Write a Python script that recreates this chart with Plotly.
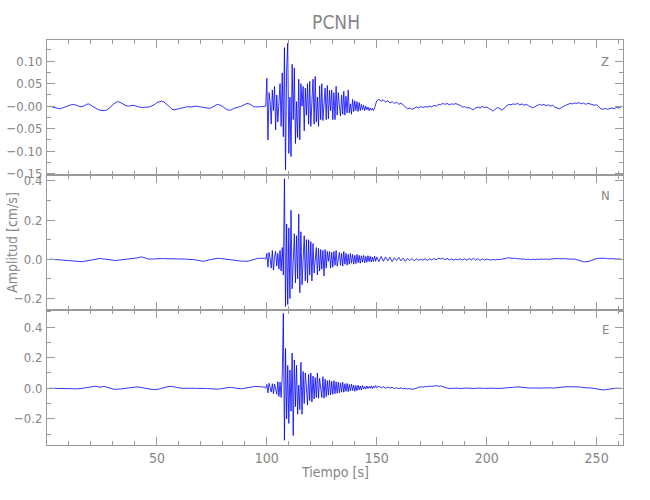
import numpy as np
import plotly.graph_objects as go

# ---------------- data ----------------
# time grids: pre-event 1 s, event window 0.5 s, coda 1 s
t_pre = list(np.arange(1, 100, 1.0))          # 1 .. 99
t_evt = list(np.arange(99.5, 150.01, 0.5))    # 99.5 .. 150
t_coda = list(np.arange(151, 262, 1.0))       # 151 .. 261

z_pre = [0.000, -0.001, -0.003, -0.004, -0.005, -0.006, -0.004, -0.002,
         0.000, 0.002, 0.003, 0.004, 0.003, 0.001, -0.001, -0.001, 0.001, 0.004,
         0.005, 0.002, -0.002, -0.004, -0.007, -0.009, -0.010, -0.010, -0.009, -0.006,
         -0.002, 0.004, 0.008, 0.010, 0.009, 0.006, 0.003, 0.001, 0.000, 0.001,
         0.002, 0.001, -0.001, -0.002, -0.003, -0.003, -0.002, -0.002, -0.001, 0.001,
         0.004, 0.008, 0.010, 0.011, 0.010, 0.006, 0.001, -0.004, -0.007, -0.008,
         -0.007, -0.006, -0.005, -0.004, -0.002, -0.001, -0.002, -0.001, -0.001, 0.000,
         -0.001, -0.002, -0.002, -0.003, -0.004, -0.005, -0.003, 0.000, 0.003, 0.004,
         0.002, -0.001, -0.005, -0.008, -0.009, -0.008, -0.005, -0.003, -0.002, -0.001,
         0.001, 0.003, 0.006, 0.005, 0.002, -0.001, -0.002, -0.001, -0.001, -0.001, 0.000]
z_evt = [0.000, 0.062, -0.075, 0.030, 0.010, -0.040, 0.036, -0.010, 0.044, -0.053,
         0.025, -0.035, 0.005, 0.050, -0.045, 0.074, -0.068, 0.130, -0.142, 0.080,
         0.140, -0.105, 0.020, -0.112, 0.093, -0.030, 0.085, -0.083, 0.010, -0.070,
         0.060, -0.075, 0.050, 0.000, 0.044, -0.055, 0.040, -0.020, 0.050, -0.040,
         0.055, -0.045, 0.010, 0.060, -0.040, 0.066, -0.035, 0.020, -0.045, 0.045,
         -0.030, 0.050, -0.032, 0.010, 0.040, -0.030, 0.046, -0.028, 0.035, -0.010,
         0.036, -0.030, 0.030, -0.030, 0.044, -0.020, 0.030, 0.000, -0.022, 0.025,
         -0.018, 0.033, -0.020, 0.022, -0.015, 0.036, -0.015, 0.005, -0.018, 0.015,
         -0.012, 0.012, -0.010, 0.010, -0.012, 0.008, -0.010, 0.004, -0.008, 0.002,
         -0.010, 0.000, -0.008, -0.002, -0.010, -0.004, -0.009, -0.005, -0.010, -0.004,
         0.002, 0.012]
z_coda = [0.015, 0.011, 0.014, 0.009, 0.012, 0.007, 0.010, 0.006, 0.009, 0.004,
          0.007, 0.003, -0.002, -0.006, -0.004, -0.007, -0.005, -0.002, -0.004, -0.001,
          -0.003, -0.001, -0.002, 0.000, -0.002, 0.002, 0.000, 0.004, 0.003, 0.006,
          0.004, 0.006, 0.003, 0.005, 0.004, 0.006, 0.003, 0.002, -0.002, -0.001,
          -0.004, -0.003, -0.006, -0.008, -0.004, -0.002, -0.004, -0.001, -0.003, -0.002,
          -0.005, -0.008, -0.011, -0.006, -0.003, -0.006, -0.009, -0.004, 0.000, 0.004,
          0.003, 0.005, 0.004, 0.006, 0.003, 0.005, 0.002, 0.004, 0.001, -0.002,
          -0.004, -0.001, 0.002, 0.004, 0.002, 0.004, 0.001, 0.003, 0.000, 0.002,
          -0.002, -0.004, -0.006, -0.003, 0.000, 0.002, 0.004, 0.006, 0.005, 0.007,
          0.006, 0.008, 0.005, 0.007, 0.004, 0.006, 0.005, 0.004, 0.002, 0.003,
          -0.002, -0.006, -0.007, -0.005, -0.007, -0.006, -0.004, -0.006, -0.003, -0.004,
          -0.003]

n_pre = [0.000, 0.001, 0.000, -0.002, -0.001, -0.003, -0.004, -0.005,
         -0.006, -0.008, -0.009, -0.010, -0.011, -0.012, -0.013, -0.012, -0.010, -0.008,
         -0.005, -0.002, 0.000, 0.002, 0.003, 0.004, 0.003, 0.001, -0.001, -0.003,
         -0.005, -0.006, -0.006, -0.005, -0.004, -0.003, -0.001, 0.001, 0.003, 0.002,
         0.004, 0.006, 0.007, 0.010, 0.012, 0.009, 0.005, 0.002, 0.001, 0.002,
         0.002, 0.003, 0.003, 0.004, 0.004, 0.003, 0.003, 0.004, 0.004, 0.003,
         0.003, 0.002, 0.002, 0.001, 0.001, 0.000, 0.000, -0.001, -0.002, -0.004,
         -0.006, -0.008, -0.010, -0.008, -0.004, -0.002, 0.000, 0.002, 0.004, 0.005,
         0.004, 0.003, 0.002, 0.000, -0.002, -0.003, -0.004, -0.005, -0.007, -0.009,
         -0.010, -0.011, -0.010, -0.008, -0.005, 0.000, 0.004, 0.005, 0.005, 0.005, 0.005]
n_evt = [0.000, 0.030, -0.040, 0.035, 0.005, -0.045, 0.045, -0.055, 0.010, 0.040,
         -0.035, 0.030, -0.050, 0.045, -0.060, 0.060, -0.080, 0.410, -0.240, 0.180,
         -0.230, 0.160, -0.200, 0.250, -0.150, 0.030, 0.130, -0.120, 0.120, -0.100,
         0.230, -0.170, 0.140, -0.130, 0.020, 0.120, -0.110, 0.100, -0.120, 0.100,
         -0.080, 0.090, -0.110, 0.080, -0.070, 0.010, 0.060, -0.080, 0.055, -0.060,
         0.050, -0.050, 0.045, -0.085, 0.050, -0.045, 0.040, -0.010, 0.040, -0.045,
         0.035, -0.040, 0.040, -0.030, 0.045, -0.035, 0.000, 0.035, -0.030, 0.030,
         -0.035, 0.040, -0.025, 0.030, -0.030, 0.025, -0.025, 0.030, -0.020, 0.025,
         -0.025, 0.020, -0.022, 0.025, -0.018, 0.020, -0.020, 0.018, -0.015, 0.020,
         -0.018, 0.015, -0.015, 0.018, -0.012, 0.015, -0.014, 0.012, -0.012, 0.016,
         -0.010, 0.012]
n_coda = [-0.012, 0.015, -0.010, 0.012, -0.008, 0.010, -0.012, 0.008, -0.006, 0.010,
          -0.008, 0.006, -0.010, 0.005, -0.006, 0.004, -0.008, 0.002, -0.005, 0.000,
          -0.004, 0.003, -0.006, 0.002, -0.003, 0.004, -0.002, 0.006, 0.002, 0.005,
          -0.002, 0.004, -0.003, 0.002, -0.004, 0.001, -0.003, 0.003, -0.004, 0.002,
          -0.005, 0.004, -0.003, 0.006, -0.004, 0.003, -0.006, 0.002, -0.004, 0.001,
          -0.002, -0.004, -0.001, -0.003, 0.000, -0.002, 0.001, 0.002, 0.005, 0.008,
          0.006, 0.004, 0.006, 0.002, 0.003, 0.000, 0.002, -0.001, 0.001, -0.002,
          0.000, -0.002, 0.001, -0.001, 0.002, 0.000, 0.002, -0.001, 0.001, 0.003,
          0.002, 0.004, 0.003, 0.004, 0.002, 0.003, 0.001, 0.002, 0.000, 0.001,
          -0.002, -0.006, -0.010, -0.012, -0.013, -0.012, -0.009, -0.004, 0.001, 0.004,
          0.005, 0.006, 0.004, 0.005, 0.003, 0.004, 0.002, 0.003, 0.001, 0.003,
          0.002]

e_pre = [0.000, 0.000, -0.001, 0.000, -0.001, -0.002, -0.001, 0.000,
         0.001, 0.000, -0.002, -0.003, -0.004, -0.004, -0.003, -0.001, 0.002, 0.005,
         0.008, 0.010, 0.012, 0.013, 0.011, 0.008, 0.010, 0.012, 0.008, 0.002,
         -0.002, -0.005, -0.007, -0.007, -0.006, -0.004, -0.002, 0.000, 0.002, 0.004,
         0.007, 0.009, 0.009, 0.007, 0.004, 0.001, 0.000, -0.002, -0.005, -0.008,
         -0.009, -0.008, -0.005, -0.001, 0.004, 0.008, 0.011, 0.013, 0.012, 0.009,
         0.005, 0.002, 0.000, -0.001, 0.000, 0.001, 0.000, 0.001, 0.000, -0.001,
         0.000, 0.001, 0.000, -0.001, -0.002, -0.003, -0.004, -0.006, -0.007, -0.006,
         -0.003, 0.000, 0.003, 0.005, 0.006, 0.005, 0.002, 0.000, -0.002, -0.003,
         -0.002, 0.000, 0.003, 0.006, 0.009, 0.012, 0.013, 0.011, 0.010, 0.009, 0.008]
e_evt = [0.000, 0.025, -0.030, 0.033, 0.005, -0.025, 0.030, -0.035, 0.028, 0.000,
         -0.040, 0.043, -0.054, 0.040, -0.060, 0.080, 0.490, -0.340, 0.260, -0.200,
         0.150, -0.230, 0.120, -0.150, 0.230, -0.310, 0.185, -0.120, 0.150, -0.170,
         0.020, -0.140, 0.170, -0.170, 0.110, -0.100, 0.100, 0.010, -0.110, 0.090,
         -0.080, 0.100, -0.090, 0.080, -0.070, 0.070, -0.060, 0.100, -0.065, 0.065,
         0.000, -0.060, 0.076, -0.065, 0.060, -0.055, 0.050, -0.045, 0.054, -0.043,
         0.045, -0.040, 0.050, -0.035, 0.043, -0.033, 0.040, -0.030, 0.035, -0.025,
         0.040, -0.026, 0.030, -0.020, 0.032, -0.022, 0.025, -0.018, 0.028, -0.015,
         0.020, -0.020, 0.018, -0.015, 0.020, -0.010, 0.015, -0.012, 0.018, -0.005,
         0.012, -0.004, 0.015, -0.002, 0.012, 0.000, 0.016, -0.003, 0.014, 0.002,
         0.018, 0.004]
e_coda = [0.014, 0.002, 0.010, 0.000, 0.008, 0.002, 0.006, -0.002, 0.004, -0.003,
          0.003, -0.004, 0.000, -0.005, -0.002, -0.007, -0.004, 0.002, 0.006, 0.010,
          0.008, 0.012, 0.010, 0.014, 0.012, 0.015, 0.017, 0.013, 0.015, 0.011,
          0.005, 0.001, -0.001, 0.000, -0.002, -0.001, 0.001, -0.002, 0.000, -0.001,
          0.002, 0.000, -0.002, 0.001, -0.001, 0.001, -0.002, 0.000, -0.001, 0.001,
          -0.001, 0.001, 0.000, -0.002, 0.001, -0.001, 0.000, 0.002, 0.003, 0.005,
          0.007, 0.009, 0.008, 0.009, 0.007, 0.006, 0.003, 0.002, 0.003, 0.001,
          0.002, 0.000, 0.002, 0.001, 0.002, 0.000, 0.002, 0.001, 0.003, 0.001,
          0.003, 0.002, 0.004, 0.006, 0.008, 0.009, 0.011, 0.010, 0.011, 0.010,
          0.011, 0.009, 0.007, 0.004, 0.003, 0.002, 0.003, 0.001, 0.000, -0.003,
          -0.007, -0.010, -0.011, -0.009, -0.006, -0.003, -0.001, 0.000, 0.001, 0.000,
          0.000]

components = ["Z", "N", "E"]
title_text = "PCNH"
x_title = "Tiempo [s]"
y_title = "Amplitud [cm/s]"
x_tickvals = [50, 100, 150, 200, 250]
y_ticks = {
    "Z": ([-0.15, -0.10, -0.05, 0.0, 0.05, 0.10],
          ["\u22120.15", "\u22120.10", "\u22120.05", "\u22120.00", "0.05", "0.10"]),
    "N": ([-0.2, 0.0, 0.2, 0.4], ["\u22120.2", "0.0", "0.2", "0.4"]),
    "E": ([-0.2, 0.0, 0.2, 0.4], ["\u22120.2", "0.0", "0.2", "0.4"]),
}

t_all = t_pre + t_evt + t_coda
series = {"Z": z_pre + z_evt + z_coda,
          "N": n_pre + n_evt + n_coda,
          "E": e_pre + e_evt + e_coda}
for k, v in series.items():
    assert len(v) == len(t_all), (k, len(v), len(t_all))

# ---------------- styling ----------------
AX = "#9a9a9a"
TXT = "#858585"
FONT = "Liberation Sans Narrow, DejaVu Sans Condensed, Liberation Sans, sans-serif"

y_ranges = {"Z": [-0.153, 0.147], "N": [-0.258, 0.429], "E": [-0.371, 0.512]}
y_minor = {"Z": 0.025, "N": 0.1, "E": 0.1}
domains = {"Z": [2 / 3, 1.0], "N": [1 / 3, 2 / 3], "E": [0.0, 1 / 3]}

fig = go.Figure()
layout = dict(
    width=650, height=500,
    margin=dict(l=47, r=27, t=40, b=55, autoexpand=False),
    paper_bgcolor="white", plot_bgcolor="white",
    showlegend=False,
    font=dict(family=FONT, color=TXT, size=12),
)

for i, comp in enumerate(components, start=1):
    sfx = "" if i == 1 else str(i)
    fig.add_trace(go.Scatter(
        x=t_all, y=series[comp], mode="lines",
        line=dict(color="#0000ff", width=0.8),
        xaxis="x" + sfx, yaxis="y" + sfx, hoverinfo="skip",
    ))
    layout["xaxis" + sfx] = dict(
        range=[0, 262], anchor="y" + sfx, domain=[0, 1], automargin=False,
        tickvals=x_tickvals, ticks="inside", ticklen=8, tickwidth=1, tickcolor=AX,
        mirror="allticks", showline=True, linecolor=AX, linewidth=1,
        showgrid=False, zeroline=False,
        showticklabels=(comp == "E"),
        tickfont=dict(size=14, color=TXT, family=FONT),
        minor=dict(tick0=0, dtick=10, ticks="inside", ticklen=4, tickcolor=AX, showgrid=False),
    )
    tv, tt = y_ticks[comp]
    layout["yaxis" + sfx] = dict(
        range=y_ranges[comp], anchor="x" + sfx, domain=domains[comp], automargin=False,
        tickvals=tv, ticktext=tt, ticks="inside", ticklen=8, tickwidth=1, tickcolor=AX,
        mirror="allticks", showline=True, linecolor=AX, linewidth=1,
        showgrid=False, zeroline=False,
        tickfont=dict(size=13, color=TXT, family=FONT),
        ticklabelstandoff=1,
        minor=dict(tick0=0, dtick=y_minor[comp], ticks="inside", ticklen=4, tickcolor=AX, showgrid=False),
    )

label_y = {"Z": 0.948, "N": 0.617, "E": 0.284}
annotations = []
for comp in components:
    annotations.append(dict(text=comp, x=0.969, y=label_y[comp], xref="paper", yref="paper",
                            showarrow=False, xanchor="center", yanchor="middle",
                            font=dict(size=13, color=TXT, family=FONT)))
annotations.append(dict(text=x_title, x=0.5, y=-0.0667, xref="paper", yref="paper",
                        showarrow=False, xanchor="center", yanchor="middle",
                        font=dict(size=14, color=TXT, family=FONT)))
annotations.append(dict(text=y_title, x=-0.062, y=0.5, xref="paper", yref="paper",
                        showarrow=False, xanchor="center", yanchor="middle", textangle=-90,
                        font=dict(size=14, color=TXT, family=FONT)))
layout["annotations"] = annotations
layout["title"] = dict(text=title_text, x=0.517, y=0.956, xanchor="center", yanchor="middle",
                       xref="container", yref="container",
                       font=dict(size=19, color=TXT, family=FONT))

fig.update_layout(**layout)
fig.write_html("out.html", config={"displayModeBar": False},
               post_script="document.body.style.margin='0px';document.body.style.padding='0px';")
